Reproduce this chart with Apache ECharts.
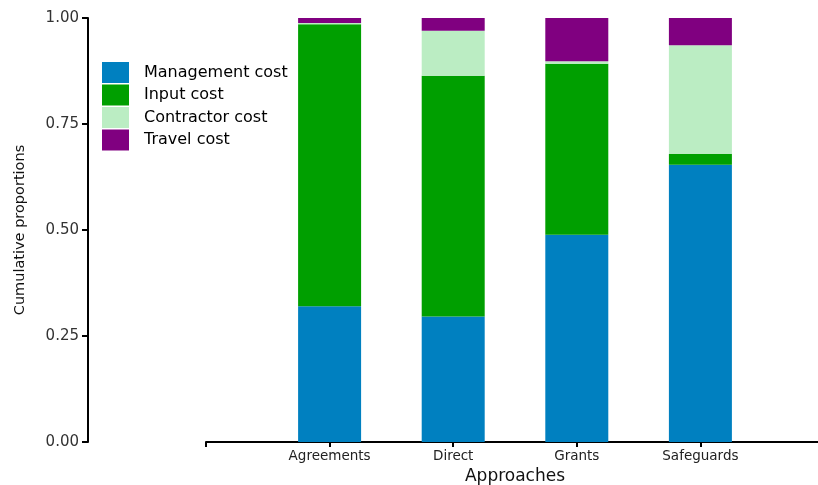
<!DOCTYPE html>
<html>
<head>
<meta charset="utf-8">
<script src="https://cdn.jsdelivr.net/npm/echarts@6/dist/echarts.min.js"></script>
<style>
  html, body { margin: 0; padding: 0; background: #fff; }
  #main { width: 818px; height: 485px; }
</style>
</head>
<body>
<div id="main"></div>
<script>
// categories on the x axis
var approaches = ['Agreements', 'Direct', 'Grants', 'Safeguards'];
// proportions per cost type (stacked, sums to 1)
var management = [0.320, 0.296, 0.489, 0.654];
var input = [0.665, 0.568, 0.403, 0.026];
var contractor = [0.003, 0.106, 0.006, 0.256];
var travel = [0.012, 0.030, 0.102, 0.064];
var yTicks = [0, 0.25, 0.5, 0.75, 1];

// empty slots either side so the bars sit where the original does
var axisCats = [''].concat(approaches, ['']);
function pad(arr) {
    return ['-'].concat(arr, ['-']);
}

var font = 'DejaVu Sans';
var myChart = echarts.init(document.getElementById('main'));

function bar(name, data, color) {
    return {
        name: name,
        type: 'bar',
        stack: 'total',
        barWidth: 63,
        data: pad(data),
        itemStyle: {color: color},
        emphasis: {disabled: true}
    };
}

myChart.setOption({
    animation: false,
    textStyle: {fontFamily: font},
    // v6: turn off outer bounds so the grid keeps the exact box
    grid: {left: 206, right: -6, top: 18, bottom: 43, outerBoundsMode: 'none', containLabel: false},
    legend: {
        orient: 'vertical',
        left: 97,
        top: 57,
        itemWidth: 27,
        itemHeight: 21,
        itemGap: 1.5,
        icon: 'rect',
        textStyle: {fontSize: 16, color: '#000', padding: [0, 0, 0, 10]},
        data: ['Management cost', 'Input cost', 'Contractor cost', 'Travel cost']
    },
    xAxis: {
        type: 'category',
        data: axisCats,
        boundaryGap: false,
        name: 'Approaches',
        nameLocation: 'middle',
        nameGap: 26,
        nameTextStyle: {fontSize: 17, color: '#111'},
        axisLine: {lineStyle: {color: '#000', width: 2}},
        axisTick: {length: 5, lineStyle: {color: '#000', width: 2}},
        axisLabel: {fontSize: 13.5, color: '#222', margin: 7},
        splitLine: {show: false}
    },
    yAxis: {
        type: 'value',
        min: yTicks[0],
        max: yTicks[yTicks.length - 1],
        interval: 0.25,
        offset: 118,
        name: 'Cumulative proportions',
        nameLocation: 'middle',
        nameGap: 60,
        nameTextStyle: {fontSize: 14.5, color: '#111'},
        axisLine: {show: true, lineStyle: {color: '#000', width: 2}},
        axisTick: {show: true, length: 6, lineStyle: {color: '#000', width: 2}},
        axisLabel: {
            fontSize: 15, color: '#333', margin: 9,
            formatter: function (v) { return v.toFixed(2); }
        },
        splitLine: {show: false}
    },
    series: [
        bar('Management cost', management, '#0080C0'),
        bar('Input cost', input, '#009F00'),
        bar('Contractor cost', contractor, '#BBEDC3'),
        bar('Travel cost', travel, '#800080')
    ]
});
</script>
</body>
</html>
